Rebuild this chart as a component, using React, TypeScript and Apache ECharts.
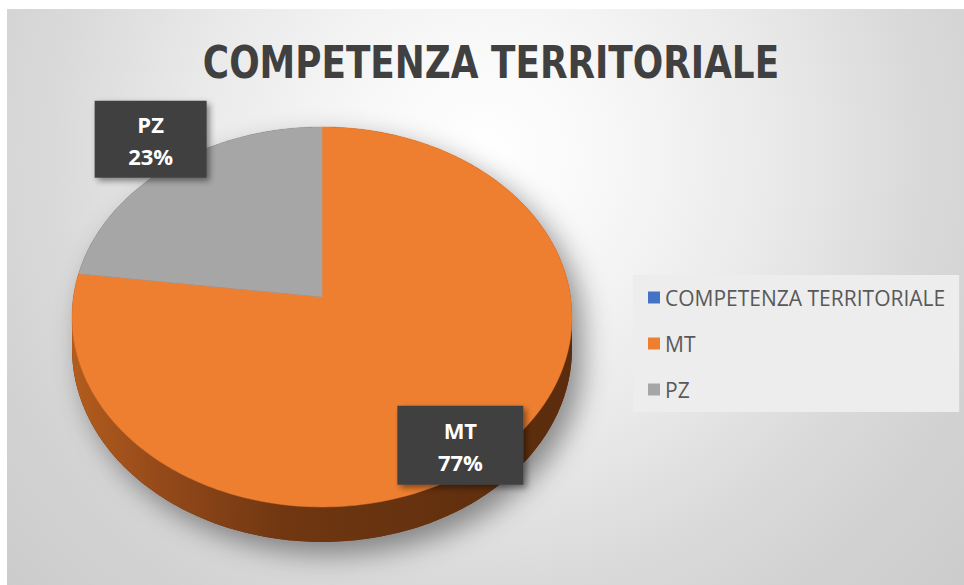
import React, { useEffect, useRef } from 'react';
import * as echarts from 'echarts';

// ---- data ----
const categories: string[] = ['COMPETENZA TERRITORIALE', 'MT', 'PZ'];
const values: number[] = [0, 77, 23];
const chartTitle = 'COMPETENZA TERRITORIALE';

// ---- styles / layout ----
const sliceColors = ['#4472C4', '#EF7F30', '#A6A6A6'];
const sideStops: [number, string][][] = [
  [[0, '#2c4a80'], [1, '#1d3257']],
  [[0, '#b35c1d'], [0.18, '#94491a'], [0.42, '#703711'], [1, '#5a2c0d']],
  [[0, '#7a7a7a'], [1, '#555555']],
];
const W = 957;
const H = 576;
const CX = 315;
const CY = 288;
const SX = 248.6;
const SY = 187.9;
const K = 0.105;
const DEPTH = 31.3;
const labelLayout = [
  { r: 1, dx: 0, dy: 0, w: 112, h: 77 },
  { r: 0.8, dx: -2, dy: 28, w: 126, h: 79 },
  { r: 1.15, dx: 2, dy: -9, w: 112, h: 77 },
];

function proj(deg: number, r = 1, drop = 0): number[] {
  const a = (deg * Math.PI) / 180;
  const x3 = r * Math.cos(a);
  const z3 = r * Math.sin(a);
  const w = 1 + K * z3;
  return [CX + (SX * x3) / w, CY - (SY * z3) / w + drop / w];
}
function arcPts(a0: number, a1: number, drop: number): number[][] {
  const n = Math.max(2, Math.ceil(Math.abs(a1 - a0)));
  const pts: number[][] = [];
  for (let j = 0; j <= n; j++) pts.push(proj(a0 + ((a1 - a0) * j) / n, 1, drop));
  return pts;
}

const total = values.reduce((s, v) => s + v, 0);
const startAngles = values.map(
  (_, i) => 90 - (360 * values.slice(0, i).reduce((s, v) => s + v, 0)) / total
);
const visEdge = (Math.asin(K) * 180) / Math.PI;
const visLo = -180 + visEdge;
const visHi = -visEdge;

const makeRender = (i: number) => (_params: any, api: any) => {
  const v = api.value(0) as number;
  if (!v) return { type: 'group', children: [] };
  const a0 = startAngles[i];
  const a1 = a0 - (360 * v) / total;
  const children: any[] = [];
  const lo = Math.min(a0, a1);
  const hi = Math.max(a0, a1);
  for (const s of [-360, 0, 360]) {
    const l = Math.max(lo + s, visLo);
    const h = Math.min(hi + s, visHi);
    if (h > l) {
      const top = arcPts(l, h, 0);
      const bot = arcPts(h, l, DEPTH);
      children.push({
        type: 'polygon',
        z2: 1,
        shape: { points: top.concat(bot) },
        style: {
          fill: new echarts.graphic.LinearGradient(
            0, 0, 1, 0,
            sideStops[i].map(([o, c]) => ({ offset: o, color: c }))
          ),
        },
      });
    }
  }
  children.push({
    type: 'polygon',
    z2: 2,
    shape: { points: [[CX, CY]].concat(arcPts(a0, a1, 0)) },
    style: { fill: sliceColors[i], stroke: sliceColors[i], lineWidth: 0.5 },
  });
  const mid = (a0 + a1) / 2;
  const L = labelLayout[i];
  const [lx, ly] = proj(mid, L.r);
  const bx = lx + L.dx;
  const by = ly + L.dy;
  children.push({
    type: 'rect',
    z2: 10,
    shape: { x: bx - L.w / 2, y: by - L.h / 2, width: L.w, height: L.h },
    style: {
      fill: '#414141',
      shadowBlur: 6,
      shadowOffsetX: 3,
      shadowOffsetY: 3,
      shadowColor: 'rgba(0,0,0,0.45)',
    },
  });
  children.push({
    type: 'text',
    z2: 11,
    x: bx,
    y: by + 1,
    style: {
      text: `${categories[i]}\n${Math.round((v / total) * 100)}%`,
      fill: '#ffffff',
      fontSize: 22,
      fontWeight: 'bold',
      fontFamily: 'Open Sans',
      align: 'center',
      verticalAlign: 'middle',
      lineHeight: 32,
    },
  });
  return { type: 'group', children };
};

const renderShadow = () => {
  const outline = arcPts(-visEdge, 180 + visEdge, 0).concat(
    arcPts(180 + visEdge, 360 - visEdge, DEPTH)
  );
  return {
    type: 'polygon',
    shape: { points: outline },
    style: {
      fill: '#5a2c0d',
      shadowBlur: 28,
      shadowOffsetX: 10,
      shadowOffsetY: 12,
      shadowColor: 'rgba(0,0,0,0.42)',
    },
  };
};

export default function App() {
  const ref = useRef<HTMLDivElement>(null);
  useEffect(() => {
    if (!ref.current) return;
    const chart = echarts.init(ref.current, undefined, { renderer: 'svg' });
    const series: any[] = [
      {
        type: 'custom',
        name: '__shadow',
        coordinateSystem: 'none',
        z: 1,
        silent: true,
        data: [[total]],
        renderItem: renderShadow,
      },
    ];
    categories.forEach((c, i) => {
      series.push({
        type: 'custom',
        name: c,
        coordinateSystem: 'none',
        z: 2,
        itemStyle: { color: sliceColors[i] },
        data: [[values[i]]],
        renderItem: makeRender(i),
      });
    });
    chart.setOption({
      animation: false,
      legend: {
        orient: 'vertical',
        left: 626,
        top: 266,
        data: categories,
        icon: 'rect',
        itemWidth: 12,
        itemHeight: 12,
        itemGap: 25,
        padding: [12, 14, 12, 15],
        backgroundColor: '#ededed',
        selectedMode: false,
        textStyle: {
          color: '#595959',
          fontSize: 21,
          fontFamily: 'Open Sans',
          lineHeight: 20,
        },
      },
      graphic: [
        {
          type: 'rect',
          left: 0,
          top: 0,
          z: -10,
          silent: true,
          shape: { width: W, height: H },
          style: {
            fill: new echarts.graphic.RadialGradient(
              478, 144, 660,
              [
                { offset: 0, color: '#ffffff' },
                { offset: 0.2, color: '#f7f7f7' },
                { offset: 0.45, color: '#e9e9e9' },
                { offset: 0.65, color: '#dadada' },
                { offset: 0.8, color: '#d2d2d2' },
                { offset: 1, color: '#cbcbcb' },
              ],
              true
            ),
          },
        },
        {
          type: 'text',
          x: 484,
          y: 53.5,
          scaleX: 0.905,
          z: 5,
          silent: true,
          style: {
            text: chartTitle,
            fontFamily: 'DejaVu Sans Condensed',
            fontWeight: 'bold',
            fontSize: 44,
            fill: '#404040',
            align: 'center',
            verticalAlign: 'middle',
          },
        },
      ],
      series,
    });
    return () => chart.dispose();
  }, []);
  return (
    <div
      ref={ref}
      style={{ position: 'absolute', left: 7, top: 9, width: W, height: H }}
    />
  );
}
